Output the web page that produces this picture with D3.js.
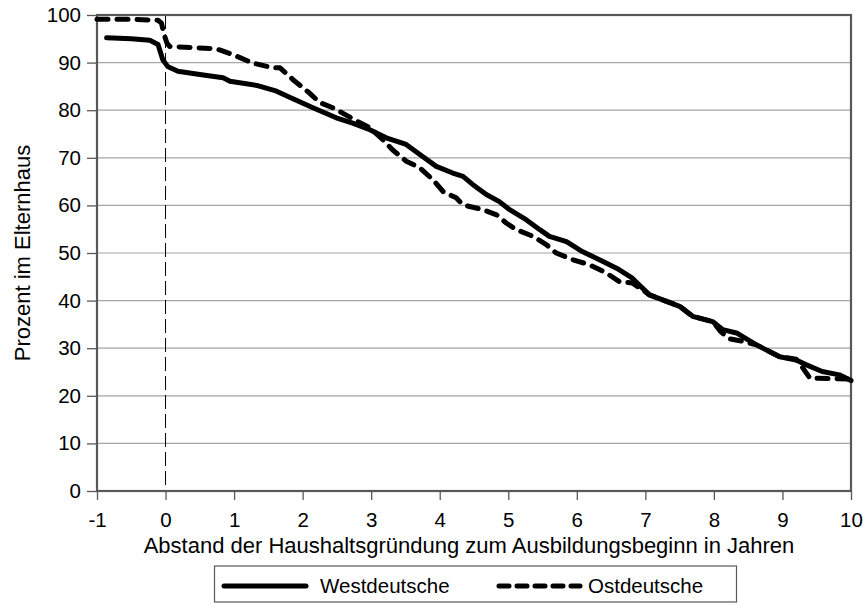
<!DOCTYPE html>
<html><head><meta charset="utf-8">
<script src="https://cdn.jsdelivr.net/npm/d3@7"></script>
<style>body{margin:0;background:#fff}svg{display:block}text{font-family:"Liberation Sans",Arial,sans-serif;fill:#000}</style>
</head><body>
<script>
const xTicks = [-1,0,1,2,3,4,5,6,7,8,9,10];
const yTicks = [0,10,20,30,40,50,60,70,80,90,100];
const seriesNames = ["Westdeutsche","Ostdeutsche"];
const xLabel = "Abstand der Haushaltsgründung zum Ausbildungsbeginn in Jahren";
const yLabel = "Prozent im Elternhaus";

const westT = [-0.86,-0.5,-0.23,-0.11,-0.04,0.03,0.18,0.5,0.84,0.94,1.33,1.62,1.81,2.15,2.49,2.73,2.98,3.22,3.51,3.71,3.95,4.19,4.34,4.48,4.68,4.87,5.02,5.26,5.46,5.6,5.85,6.08,6.33,6.58,6.81,7.06,7.5,7.69,7.98,8.13,8.33,8.62,8.96,9.2,9.35,9.58,9.83,10.0];
const westV = [95.2,95.0,94.7,93.8,90.6,89.2,88.2,87.5,86.8,86.1,85.2,84.0,82.7,80.5,78.4,77.3,75.9,74.2,72.8,70.7,68.2,66.8,66.1,64.4,62.3,60.8,59.1,57.0,54.9,53.5,52.4,50.3,48.6,46.8,44.7,41.2,38.8,36.7,35.6,33.9,33.2,30.7,28.2,27.5,26.5,25.1,24.4,23.2];

const ostT = [-1.0,-0.5,-0.11,-0.06,-0.02,0.02,0.06,0.74,0.98,1.27,1.57,1.67,1.86,2.1,2.25,2.44,2.57,2.79,2.98,3.17,3.31,3.51,3.71,3.9,4.05,4.24,4.34,4.63,4.83,4.97,5.12,5.36,5.56,5.7,5.94,6.19,6.43,6.62,6.81,7.06,7.5,7.69,7.98,8.1,8.22,8.4,8.62,8.96,9.2,9.29,9.4,10.0];
const ostV = [99.1,99.1,98.9,98.3,95.9,94.1,93.4,92.9,91.7,89.9,88.9,88.9,86.4,83.6,81.6,80.5,79.5,77.7,76.3,73.8,71.7,69.3,67.9,65.4,62.9,61.6,60.1,59.1,58.0,56.3,54.9,53.5,51.7,50.0,48.6,47.5,45.8,44.0,43.7,41.2,38.8,36.7,35.6,33.5,32.0,31.5,30.7,28.2,27.7,26.0,23.7,23.5];

(function(){
const W = 868, H = 607;
const pL = 97, pR = 851, pT = 15, pB = 491;
const svg = d3.select("body").append("svg").attr("width", W).attr("height", H);

const x = d3.scaleLinear().domain([-1,10]).range([pL,pR]);
const y = d3.scaleLinear().domain([0,100]).range([pB,pT]);

svg.append("g").selectAll("line").data(yTicks.filter(d=>d>0&&d<100)).join("line")
  .attr("x1",pL).attr("x2",pR).attr("y1",d=>y(d)).attr("y2",d=>y(d))
  .attr("stroke","#a6a6a6").attr("stroke-width",1.2);

svg.append("line").attr("x1",x(0)).attr("x2",x(0)).attr("y1",pT).attr("y2",pB)
  .attr("stroke","#000").attr("stroke-width",1).attr("stroke-dasharray","14,5");

svg.append("rect").attr("x",pL).attr("y",pT).attr("width",pR-pL).attr("height",pB-pT)
  .attr("fill","none").attr("stroke","#585858").attr("stroke-width",2.2);

const fmt = d => String(d);
const xAxis = svg.append("g").attr("transform",`translate(0,${pB})`)
  .call(d3.axisBottom(x).tickValues(xTicks).tickSize(9).tickPadding(12).tickFormat(fmt));
const yAxis = svg.append("g").attr("transform",`translate(${pL},0)`)
  .call(d3.axisLeft(y).tickValues(yTicks).tickSize(10).tickPadding(6).tickFormat(fmt));
[xAxis,yAxis].forEach(a=>{
  a.select(".domain").remove();
  a.selectAll(".tick line").attr("stroke","#585858").attr("stroke-width",1.3);
  a.selectAll("text").style("font-size","20.5px").attr("fill","#000");
});

const line = d3.line().x(d=>x(d[0])).y(d=>y(d[1]));
const westData = westT.map((t,i)=>[t,westV[i]]);
const ostData = ostT.map((t,i)=>[t,ostV[i]]);
svg.append("path").datum(ostData).attr("d",line).attr("fill","none").attr("stroke","#000")
  .attr("stroke-width",5).attr("stroke-linecap","round").attr("stroke-linejoin","round").attr("stroke-dasharray","11,9");
svg.append("path").datum(westData).attr("d",line).attr("fill","none").attr("stroke","#000")
  .attr("stroke-width",5).attr("stroke-linecap","round").attr("stroke-linejoin","round");

svg.append("text").attr("x",469).attr("y",553).attr("text-anchor","middle")
  .style("font-size","22px").text(xLabel);
svg.append("text").attr("transform",`translate(30,${(pT+pB)/2}) rotate(-90)`).attr("text-anchor","middle")
  .style("font-size","22px").text(yLabel);

const lg = svg.append("g");
lg.append("rect").attr("x",214.5).attr("y",566).attr("width",522).attr("height",36)
  .attr("fill","#fff").attr("stroke","#585858").attr("stroke-width",1.2);
lg.append("line").attr("x1",224).attr("x2",306).attr("y1",586).attr("y2",586)
  .attr("stroke","#000").attr("stroke-width",5).attr("stroke-linecap","round");
lg.append("text").attr("x",320).attr("y",593).style("font-size","20.5px").text(seriesNames[0]);
lg.append("line").attr("x1",499).attr("x2",580).attr("y1",586).attr("y2",586)
  .attr("stroke","#000").attr("stroke-width",5).attr("stroke-linecap","round").attr("stroke-dasharray","10,8");
lg.append("text").attr("x",588).attr("y",593).style("font-size","20.5px").text(seriesNames[1]);
})();
</script>
</body></html>
